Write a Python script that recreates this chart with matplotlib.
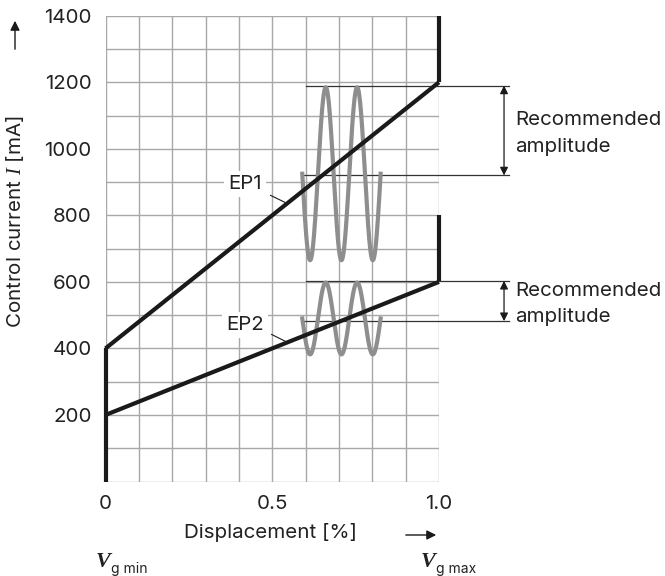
import numpy as np
import matplotlib
matplotlib.use("Agg")
import matplotlib.pyplot as plt

plt.rcParams['font.family'] = ['Inter', 'DejaVu Sans']
plt.rcParams['mathtext.fontset'] = 'custom'
plt.rcParams['mathtext.rm'] = 'Inter'
plt.rcParams['mathtext.it'] = 'Liberation Serif:italic'
plt.rcParams['mathtext.bf'] = 'Liberation Serif:bold:italic'

# characteristic curves (displacement 0..1, current mA)
ep1_x = [0.0, 1.0]
ep1_y = [400, 1200]
ep2_x = [0.0, 1.0]
ep2_y = [200, 600]

# thick limit segments
left_stop_y = [0, 400]
ep1_stop_y = [1200, 1400]
ep2_stop_y = [600, 800]

# dither signal
wave_x0, wave_x1, wave_cycles = 0.59, 0.825, 2.5
ep1_wave_center, ep1_wave_amp = 925, 260
ep2_wave_center, ep2_wave_amp = 490, 108

# recommended amplitude marker lines
ep1_amp_top, ep1_amp_mid = 1190, 920
ep2_amp_top, ep2_amp_mid = 603, 482

y_ticks = [200, 400, 600, 800, 1000, 1200, 1400]
x_ticks = [0, 0.5, 1.0]
x_tick_labels = ['0', '0.5', '1.0']

black = '#1a1a1a'
grey = '#8e8e8e'
gridc = '#a8a8a8'
txt = '#222222'
fs = 14.8

fig = plt.figure(figsize=(6.65, 5.76), dpi=100)
ax = fig.add_axes([105.5 / 665, 1 - 481.5 / 576, 333.5 / 665, 465.8 / 576])
ax.set_xlim(0, 1)
ax.set_ylim(0, 1400)
for s in ax.spines.values():
    s.set_visible(False)

ax.set_xticks(x_ticks)
ax.set_xticklabels(x_tick_labels)
ax.set_yticks(y_ticks)
ax.set_xticks(np.arange(0, 1.01, 0.1), minor=True)
ax.set_yticks(np.arange(0, 1401, 100), minor=True)
ax.tick_params(which='both', length=0, labelsize=fs, colors=txt)
ax.tick_params(axis='x', pad=10)
ax.tick_params(axis='y', pad=10)
ax.grid(which='both', color=gridc, linewidth=1.0)
ax.set_axisbelow(True)

# thick stops
ax.plot([0, 0], left_stop_y, color=black, lw=3, solid_capstyle='butt', clip_on=False)
ax.plot([1, 1], ep1_stop_y, color=black, lw=3, solid_capstyle='butt', clip_on=False)
ax.plot([1, 1], ep2_stop_y, color=black, lw=3, solid_capstyle='butt', clip_on=False)

# amplitude reference lines
for yy in [ep1_amp_top, ep2_amp_top]:
    ax.plot([0.6, 1.21], [yy, yy], color='#333333', lw=0.9, clip_on=False)
for yy in [ep1_amp_mid, ep2_amp_mid]:
    ax.plot([0.59, 1.21], [yy, yy], color='#333333', lw=0.9, clip_on=False)

# dither waves
xw = np.linspace(wave_x0, wave_x1, 400)
period = (wave_x1 - wave_x0) / wave_cycles
ph = 2 * np.pi * (xw - wave_x0) / period
ax.plot(xw, ep1_wave_center - ep1_wave_amp * np.sin(ph), color=grey, lw=3, zorder=3)
ax.plot(xw, ep2_wave_center - ep2_wave_amp * np.sin(ph), color=grey, lw=3, zorder=3)

# curves
ax.plot(ep1_x, ep1_y, color=black, lw=3, zorder=4, solid_capstyle='butt', clip_on=False)
ax.plot(ep2_x, ep2_y, color=black, lw=3, zorder=4, solid_capstyle='butt', clip_on=False)

# curve labels with leaders
ax.text(0.418, 893, 'EP1', fontsize=fs, ha='center', va='center', color=txt,
        bbox=dict(facecolor='white', edgecolor='none', pad=3), zorder=5)
ax.plot([0.495, 0.538], [860, 839], color=black, lw=0.8, zorder=5)
ax.text(0.418, 470, 'EP2', fontsize=fs, ha='center', va='center', color=txt,
        bbox=dict(facecolor='white', edgecolor='none', pad=3), zorder=5)
ax.plot([0.498, 0.538], [442, 422], color=black, lw=0.8, zorder=5)

# recommended amplitude arrows
for top, mid, ty in [(ep1_amp_top, ep1_amp_mid, 1046), (ep2_amp_top, ep2_amp_mid, 533)]:
    ax.annotate('', xy=(1.195, top), xytext=(1.195, mid),
                arrowprops=dict(arrowstyle='<|-|>', color=black, lw=0.9,
                                mutation_scale=12, shrinkA=0, shrinkB=0),
                annotation_clip=False)
    ax.text(1.228, ty, 'Recommended\namplitude', fontsize=fs, ha='left', va='center',
            color=txt, linespacing=1.6, clip_on=False)

# axis labels
fig.text(270 / 665, 1 - 533 / 576, 'Displacement [%]', fontsize=fs, ha='center', va='center',
         color=txt)
fig.text(15 / 665, 1 - 222 / 576, r'Control current $\mathit{I}$ [mA]', fontsize=fs,
         rotation=90, ha='center', va='center', color=txt)

# direction arrows
fig.patches.append(matplotlib.patches.FancyArrowPatch(
    (15 / 665, 1 - 52 / 576), (15 / 665, 1 - 18 / 576), transform=fig.transFigure,
    arrowstyle='-|>', mutation_scale=14, color=black, lw=1.0))
fig.patches.append(matplotlib.patches.FancyArrowPatch(
    (403 / 665, 1 - 535 / 576), (439 / 665, 1 - 535 / 576), transform=fig.transFigure,
    arrowstyle='-|>', mutation_scale=14, color=black, lw=1.0))

# V g min / V g max
fig.text(95 / 665, 1 - 567 / 576, r'$\mathbf{V}$', fontsize=16,
         ha='left', va='baseline', color=txt)
fig.text(111 / 665, 1 - 573 / 576, 'g min', fontsize=10,
         ha='left', va='baseline', color=txt)
fig.text(420 / 665, 1 - 567 / 576, r'$\mathbf{V}$', fontsize=16,
         ha='left', va='baseline', color=txt)
fig.text(436 / 665, 1 - 573 / 576, 'g max', fontsize=10,
         ha='left', va='baseline', color=txt)

fig.savefig('out.png', dpi=100)
